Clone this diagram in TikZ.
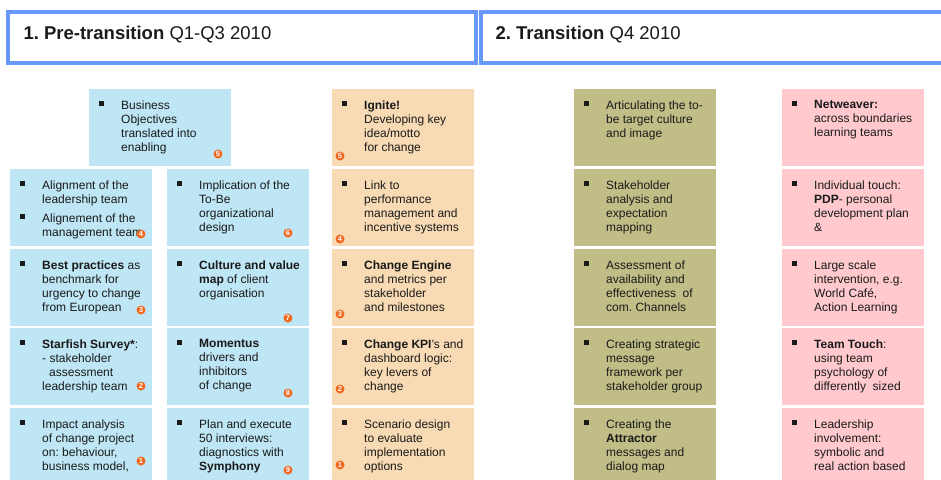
\documentclass[tikz,border=0pt]{standalone}
\usepackage{fontspec}
\setmainfont{Liberation Sans}
\usetikzlibrary{positioning,calc}
\frenchspacing

\definecolor{phaseblue}{RGB}{104,152,250}
\definecolor{fillA}{RGB}{190,230,245}
\definecolor{fillC}{RGB}{248,219,180}
\definecolor{fillD}{RGB}{192,190,134}
\definecolor{fillE}{RGB}{255,201,205}
\definecolor{badgeorange}{RGB}{242,104,30}
\definecolor{ink}{RGB}{26,26,26}

% one card: name, top left corner, fill, lines of text (cut off near the bottom)
\newcommand{\card}[4]{%
  \node[card, fill=#3] (#1) at (#2) {};
  \begin{scope}
    \clip (#1.north west) rectangle ($(#1.south east)+(0,-8)$);
    \node[bullet] at ($(#1.north west)+(12.5,14.5)$) {};
    \node[cardtext] at ($(#1.north west)+(32,11.2)$) {#4};
  \end{scope}}

\begin{document}
\begin{tikzpicture}[x=1pt, y=-1pt,
    card/.style={rectangle, anchor=north west, inner sep=0pt, outer sep=0pt,
      minimum width=142pt, minimum height=77pt},
    cardtext/.style={anchor=north west, inner sep=0pt, align=left, text=ink,
      font=\fontsize{12}{14}\selectfont, execute at begin node=\strut},
    bullet/.style={rectangle, fill=ink, inner sep=0pt, minimum size=5pt},
    badge/.style={circle, fill=badgeorange, text=white, inner sep=0pt,
      minimum size=9pt, font=\fontsize{7.5}{7.5}\selectfont\bfseries},
    phase/.style={rectangle, anchor=north west, draw=phaseblue, line width=4pt,
      inner sep=0pt, outer sep=0pt, minimum height=51pt},
    phaselabel/.style={anchor=base west, text=ink, font=\fontsize{18.5}{22}\selectfont}]
  \useasboundingbox (0,0) rectangle (941,479);
  \clip (0,0) rectangle (941,479);

  % phase headers
  \node[phase, minimum width=468pt] (pre) at (8,12) {};
  \node[phase, minimum width=470pt] (trans) at (481,12) {};
  \node[phaselabel] (prelbl) at ($(pre.north west)+(12,27)$) {\textbf{1. Pre-transition} Q1-Q3 2010};
  \node[phaselabel] (translbl) at ($(trans.north west)+(11,27)$) {\textbf{2. Transition} Q4 2010};

  % pre-transition, first two columns
  \card{obj}{89,89}{fillA}{Business\\Objectives\\translated into\\enabling}
  \node[badge] (nobj) at ($(obj.north east)+(-13,65)$) {5};

  \card{a1}{10,169}{fillA}{Alignment of the\\leadership team\\[5pt]Alignement of the\\management team}
  \node[bullet] (a1b) at ($(a1.north west)+(12.5,47.5)$) {};
  \node[badge] (na1) at ($(a1.north east)+(-11,65)$) {4};
  \card{a2}{10,249}{fillA}{\textbf{Best practices} as\\benchmark for\\urgency to change\\from European}
  \node[badge] (na2) at ($(a2.north east)+(-11,61)$) {3};
  \card{a3}{10,328}{fillA}{\textbf{Starfish Survey*}:\\- stakeholder\\\hspace*{7pt}assessment\\leadership team}
  \node[badge] (na3) at ($(a3.north east)+(-11,58)$) {2};
  \card{a4}{10,408}{fillA}{Impact analysis\\of change project\\on: behaviour,\\business model,}
  \node[badge] (na4) at ($(a4.north east)+(-11,53)$) {1};

  \card{b1}{167,169}{fillA}{Implication of the\\To-Be\\organizational\\design}
  \node[badge] (nb1) at ($(b1.north east)+(-21,64)$) {6};
  \card{b2}{167,249}{fillA}{\textbf{Culture and value}\\\textbf{map} of client\\organisation}
  \node[badge] (nb2) at ($(b2.north east)+(-21,69)$) {7};
  \card{b3}{167,328}{fillA}{\textbf{Momentus}\\drivers and\\inhibitors\\of change}
  \node[badge] (nb3) at ($(b3.north east)+(-21,65)$) {8};
  \card{b4}{167,408}{fillA}{Plan and execute\\50 interviews:\\diagnostics with\\\textbf{Symphony}}
  \node[badge] (nb4) at ($(b4.north east)+(-21,62)$) {9};

  % pre-transition, third column
  \card{c0}{332,89}{fillC}{\textbf{Ignite!}\\Developing key\\idea/motto\\for change}
  \node[badge] (nc0) at ($(c0.north west)+(8,67)$) {5};
  \card{c1}{332,169}{fillC}{Link to\\performance\\management and\\incentive systems}
  \node[badge] (nc1) at ($(c1.north west)+(8,70)$) {4};
  \card{c2}{332,249}{fillC}{\textbf{Change Engine}\\and metrics per\\stakeholder\\and milestones}
  \node[badge] (nc2) at ($(c2.north west)+(8,65)$) {3};
  \card{c3}{332,328}{fillC}{\textbf{Change KPI}'s and\\dashboard logic:\\key levers of\\change}
  \node[badge] (nc3) at ($(c3.north west)+(8,61)$) {2};
  \card{c4}{332,408}{fillC}{Scenario design\\to evaluate\\implementation\\options}
  \node[badge] (nc4) at ($(c4.north west)+(8,57)$) {1};

  % transition
  \card{d0}{574,89}{fillD}{Articulating the to-\\be target culture\\and image}
  \card{d1}{574,169}{fillD}{Stakeholder\\analysis and\\expectation\\mapping}
  \card{d2}{574,249}{fillD}{Assessment of\\availability and\\effectiveness\ \ of\\com. Channels}
  \card{d3}{574,328}{fillD}{Creating strategic\\message\\framework per\\stakeholder group}
  \card{d4}{574,408}{fillD}{Creating the\\\textbf{Attractor}\\messages and\\dialog map}

  \card{e0}{782,89}{fillE}{\textbf{Netweaver:}\\across boundaries\\learning teams}
  \card{e1}{782,169}{fillE}{Individual touch:\\\textbf{PDP}- personal\\development plan\\\&}
  \card{e2}{782,249}{fillE}{Large scale\\intervention, e.g.\\World Café,\\Action Learning}
  \card{e3}{782,328}{fillE}{\textbf{Team Touch}:\\using team\\psychology of\\differently\ \ sized}
  \card{e4}{782,408}{fillE}{Leadership\\involvement:\\symbolic and\\real action based}
\end{tikzpicture}
\end{document}
